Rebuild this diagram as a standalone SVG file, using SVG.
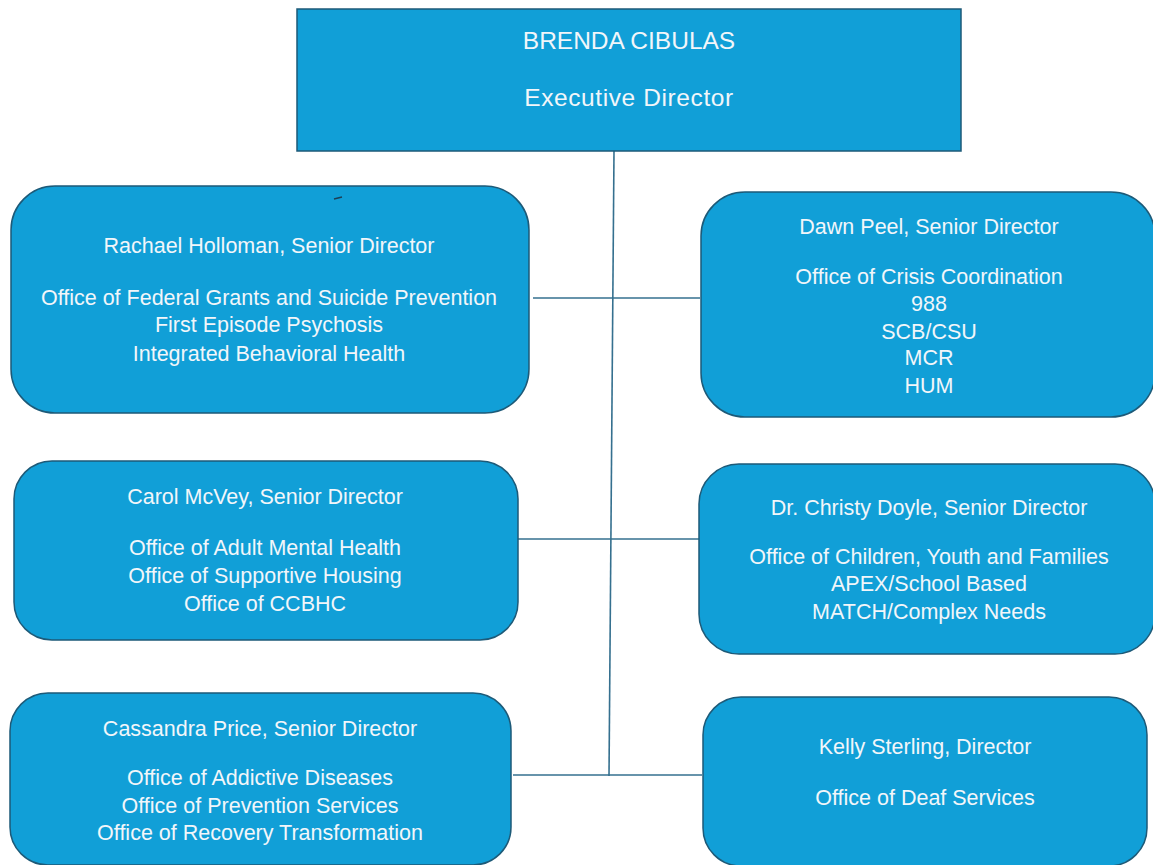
<svg xmlns="http://www.w3.org/2000/svg" width="1153" height="865" viewBox="0 0 1153 865">
  <style>
    .box { fill: #119fd7; stroke: #1d5a78; stroke-width: 1.5; }
    .link { stroke: #35708f; stroke-width: 1.6; fill: none; }
    text { font-family: "Liberation Sans", Arial, sans-serif; fill: #f2f6fa; text-anchor: middle; }
    .t { font-size: 21.5px; }
    .top { font-size: 24.5px; }
  </style>
  <rect width="1153" height="865" fill="#ffffff"/>

  <!-- reporting lines -->
  <g id="connectors">
    <path class="link" d="M614 151 L609 776"/>
    <path class="link" d="M533 298 H700"/>
    <path class="link" d="M517 539 H705"/>
    <path class="link" d="M513 775 H702"/>
  </g>

  <g id="executive-director">
    <rect class="box" x="297" y="9" width="664" height="142"/>
    <text class="top" x="629" y="49">BRENDA CIBULAS</text>
    <text class="top" x="629" y="106" letter-spacing="0.6">Executive Director</text>
  </g>

  <g id="rachael-holloman">
    <rect class="box" x="11" y="186" width="518" height="227" rx="44" ry="44"/>
    <path d="M334 199 L342 197" stroke="#1d3f55" stroke-width="1.3"/>
    <text class="t" x="269" y="253">Rachael Holloman, Senior Director</text>
    <text class="t" x="269" y="305">Office of Federal Grants and Suicide Prevention</text>
    <text class="t" x="269" y="332">First Episode Psychosis</text>
    <text class="t" x="269" y="361">Integrated Behavioral Health</text>
  </g>

  <g id="dawn-peel">
    <rect class="box" x="701" y="192" width="454" height="225" rx="44" ry="44"/>
    <text class="t" x="929" y="234">Dawn Peel, Senior Director</text>
    <text class="t" x="929" y="284">Office of Crisis Coordination</text>
    <text class="t" x="929" y="311">988</text>
    <text class="t" x="929" y="339">SCB/CSU</text>
    <text class="t" x="929" y="365">MCR</text>
    <text class="t" x="929" y="393">HUM</text>
  </g>

  <g id="carol-mcvey">
    <rect class="box" x="14" y="461" width="504" height="179" rx="38" ry="38"/>
    <text class="t" x="265" y="504">Carol McVey, Senior Director</text>
    <text class="t" x="265" y="555">Office of Adult Mental Health</text>
    <text class="t" x="265" y="583">Office of Supportive Housing</text>
    <text class="t" x="265" y="611">Office of CCBHC</text>
  </g>

  <g id="christy-doyle">
    <rect class="box" x="699" y="464" width="456" height="190" rx="40" ry="40"/>
    <text class="t" x="929" y="515">Dr. Christy Doyle, Senior Director</text>
    <text class="t" x="929" y="564">Office of Children, Youth and Families</text>
    <text class="t" x="929" y="591">APEX/School Based</text>
    <text class="t" x="929" y="619">MATCH/Complex Needs</text>
  </g>

  <g id="cassandra-price">
    <rect class="box" x="10" y="693" width="501" height="172" rx="38" ry="38"/>
    <text class="t" x="260" y="736">Cassandra Price, Senior Director</text>
    <text class="t" x="260" y="785">Office of Addictive Diseases</text>
    <text class="t" x="260" y="813">Office of Prevention Services</text>
    <text class="t" x="260" y="840">Office of Recovery Transformation</text>
  </g>

  <g id="kelly-sterling">
    <rect class="box" x="703" y="697" width="444" height="169" rx="38" ry="38"/>
    <text class="t" x="925" y="754">Kelly Sterling, Director</text>
    <text class="t" x="925" y="805">Office of Deaf Services</text>
  </g>
</svg>
